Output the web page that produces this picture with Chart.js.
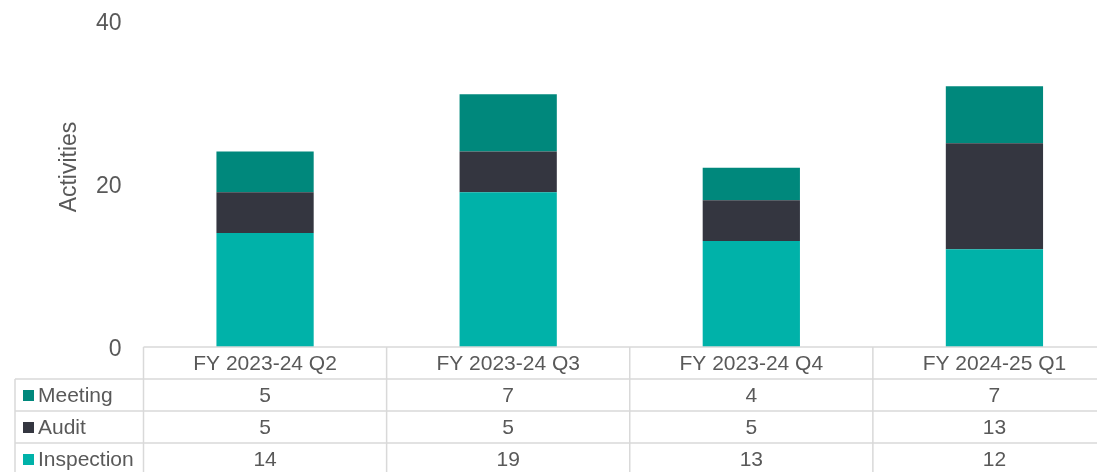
<!DOCTYPE html>
<html lang="en">
<head>
<meta charset="UTF-8">
<title>Activities</title>
<script src="https://cdn.jsdelivr.net/npm/chart.js@4.4.1/dist/chart.umd.min.js"></script>
<style>
  html, body { margin: 0; padding: 0; background: #fff; overflow: hidden; }
  canvas { display: block; }
</style>
</head>
<body>
<canvas id="myChart" width="1120" height="472"></canvas>
<script>
  const quarters = ['FY 2023-24 Q2', 'FY 2023-24 Q3', 'FY 2023-24 Q4', 'FY 2024-25 Q1'];
  const meeting = [5, 7, 4, 7];
  const audit = [5, 5, 5, 13];
  const inspection = [14, 19, 13, 12];
  const yTicks = [0, 20, 40];

  const colMeeting = '#00887c';
  const colAudit = '#343640';
  const colInspection = '#00b2a9';
  const textColor = '#595959';
  const lineColor = '#d9d9d9';
  const fontFamily = '"Liberation Sans", Arial, sans-serif';

  // rows of the data table, top to bottom
  const tableRows = [
    { label: 'Meeting', color: colMeeting, values: meeting },
    { label: 'Audit', color: colAudit, values: audit },
    { label: 'Inspection', color: colInspection, values: inspection }
  ];

  const dataTable = {
    id: 'dataTable',
    afterDraw(chart) {
      const ctx = chart.ctx;
      const x = chart.scales.x;
      const area = chart.chartArea;
      const rowH = 32;
      const top = area.bottom;
      const colW = x.getPixelForValue(1) - x.getPixelForValue(0);
      const left = area.left;
      const right = left + colW * quarters.length;
      const legendLeft = 15;
      const bottom = top + rowH * (tableRows.length + 1);

      ctx.save();
      ctx.strokeStyle = lineColor;
      ctx.lineWidth = 1.5;
      ctx.beginPath();
      // horizontal lines
      ctx.moveTo(left, top); ctx.lineTo(right, top);
      for (let r = 1; r <= tableRows.length; r++) {
        ctx.moveTo(legendLeft, top + rowH * r); ctx.lineTo(right, top + rowH * r);
      }
      // vertical lines
      ctx.moveTo(legendLeft, top + rowH); ctx.lineTo(legendLeft, bottom);
      for (let c = 0; c <= quarters.length; c++) {
        const cx = left + colW * c;
        ctx.moveTo(cx, top); ctx.lineTo(cx, bottom);
      }
      ctx.stroke();

      ctx.fillStyle = textColor;
      ctx.font = '21px ' + fontFamily;
      ctx.textBaseline = 'middle';
      ctx.textAlign = 'center';
      quarters.forEach((q, i) => {
        ctx.fillText(q, x.getPixelForValue(i), top + rowH / 2 + 1);
      });
      tableRows.forEach((row, r) => {
        const cy = top + rowH * (r + 1) + rowH / 2 + 1;
        ctx.fillStyle = row.color;
        ctx.fillRect(23, cy - 6, 11, 11);
        ctx.fillStyle = textColor;
        ctx.textAlign = 'left';
        ctx.fillText(row.label, 38, cy);
        ctx.textAlign = 'center';
        row.values.forEach((v, i) => {
          ctx.fillText(String(v), x.getPixelForValue(i), cy);
        });
      });

      // axis title
      ctx.translate(70, 167);
      ctx.rotate(-Math.PI / 2);
      ctx.textAlign = 'center';
      ctx.font = '23px ' + fontFamily;
      ctx.fillText('Activities', 0, 0);
      ctx.restore();
    }
  };

  const ctx = document.getElementById('myChart').getContext('2d');
  const myChart = new Chart(ctx, {
    type: 'bar',
    data: {
      labels: quarters,
      datasets: [
        { label: 'Inspection', data: inspection, backgroundColor: colInspection },
        { label: 'Audit', data: audit, backgroundColor: colAudit },
        { label: 'Meeting', data: meeting, backgroundColor: colMeeting }
      ]
    },
    options: {
      responsive: false,
      animation: false,
      layout: { padding: { top: 21, bottom: 125, right: 4, left: 0 } },
      datasets: { bar: { categoryPercentage: 1, barPercentage: 0.4 } },
      plugins: {
        legend: { display: false },
        tooltip: { enabled: false }
      },
      scales: {
        x: {
          stacked: true,
          display: false
        },
        y: {
          stacked: true,
          min: 0,
          max: 40,
          afterFit(scale) {
            scale.width = 143.5;
            scale.paddingTop = 0;
            scale.paddingBottom = 0;
          },
          afterBuildTicks(scale) { scale.ticks = yTicks.map(v => ({ value: v })); },
          grid: { display: false, drawTicks: false },
          border: { display: false },
          ticks: {
            padding: 22,
            labelOffset: 3,
            color: textColor,
            font: { family: fontFamily, size: 23 }
          }
        }
      }
    },
    plugins: [dataTable]
  });
</script>
</body>
</html>
